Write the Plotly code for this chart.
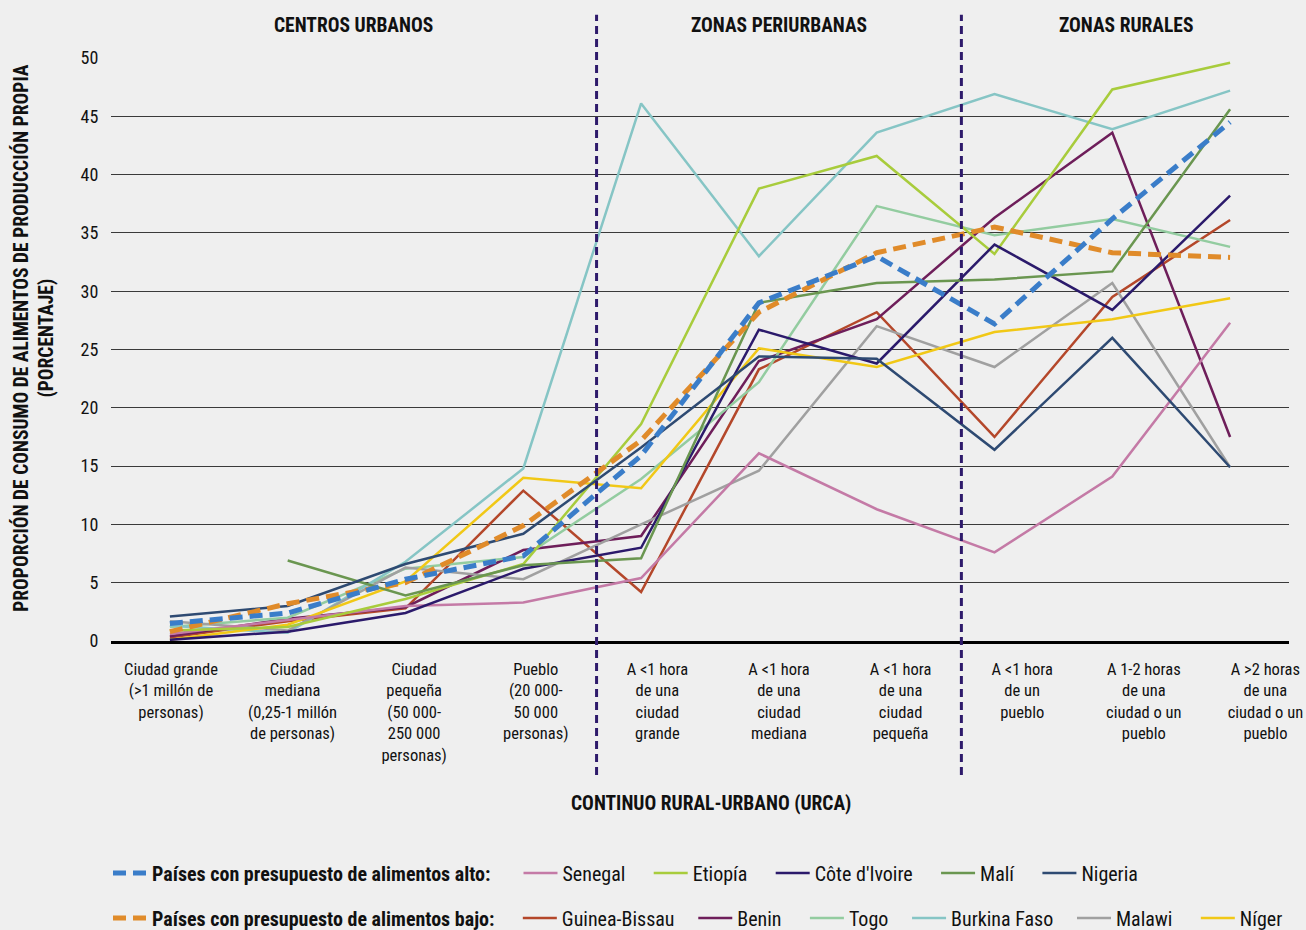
import plotly.graph_objects as go

# Rural-urban continuum categories (URCA)
categorias = [
    "Ciudad grande<br>(&gt;1 millón de<br>personas)",
    "Ciudad<br>mediana<br>(0,25-1 millón<br>de personas)",
    "Ciudad<br>pequeña<br>(50 000-<br>250 000<br>personas)",
    "Pueblo<br>(20 000-<br>50 000<br>personas)",
    "A &lt;1 hora<br>de una<br>ciudad<br>grande",
    "A &lt;1 hora<br>de una<br>ciudad<br>mediana",
    "A &lt;1 hora<br>de una<br>ciudad<br>pequeña",
    "A &lt;1 hora<br>de un<br>pueblo",
    "A 1-2 horas<br>de una<br>ciudad o un<br>pueblo",
    "A &gt;2 horas<br>de una<br>ciudad o un<br>pueblo",
]
zonas = ["CENTROS URBANOS", "ZONAS PERIURBANAS", "ZONAS RURALES"]
y_ticks = [0, 5, 10, 15, 20, 25, 30, 35, 40, 45, 50]

# Share of food consumed from own production (%)
alto_promedio = [1.5, 2.4, 5.3, 7.3, 15.9, 29.0, 33.0, 27.2, 36.2, 44.5]
bajo_promedio = [0.8, 3.2, 5.0, 9.9, 17.2, 28.2, 33.3, 35.5, 33.3, 32.9]

senegal = [0.6, 1.8, 3.0, 3.3, 5.4, 16.1, 11.3, 7.6, 14.1, 27.3]
etiopia = [0.9, 1.2, 3.6, 6.6, 18.6, 38.8, 41.6, 33.2, 47.3, 49.6]
cote_ivoire = [0.1, 0.8, 2.4, 6.2, 8.0, 26.7, 23.8, 34.0, 28.4, 38.2]
mali = [None, 6.9, 3.9, 6.5, 7.1, 29.0, 30.7, 31.0, 31.7, 45.6]
nigeria = [2.1, 3.0, 6.6, 9.2, 16.6, 24.4, 24.2, 16.4, 26.0, 14.9]

guinea_bissau = [0.3, 1.7, 2.8, 12.9, 4.2, 23.3, 28.2, 17.5, 29.5, 36.1]
benin = [0.4, 1.9, 2.9, 7.8, 9.0, 24.0, 27.6, 36.3, 43.6, 17.5]
togo = [1.2, 2.0, 6.2, 7.2, 13.9, 22.2, 37.3, 34.8, 36.2, 33.8]
burkina_faso = [1.3, 0.7, 6.8, 14.8, 46.1, 33.0, 43.6, 46.9, 43.9, 47.2]
malawi = [1.7, 0.9, 6.3, 5.3, 10.0, 14.6, 27.0, 23.5, 30.7, 14.9]
niger = [0.1, 1.4, 5.1, 14.0, 13.1, 25.1, 23.5, 26.5, 27.6, 29.4]

FONT = "Roboto Condensed, Liberation Sans Narrow, DejaVu Sans Condensed, Arial Narrow, Roboto, sans-serif"
BG = "#efefef"
INK = "#111111"

x_pos = list(range(len(categorias)))

alto = [
    ("Senegal", senegal, "#c47aa6"),
    ("Etiopía", etiopia, "#a8cc3c"),
    ("Côte d'Ivoire", cote_ivoire, "#2b1a6b"),
    ("Malí", mali, "#6a9650"),
    ("Nigeria", nigeria, "#2e4a72"),
]
bajo = [
    ("Guinea-Bissau", guinea_bissau, "#b4472a"),
    ("Benin", benin, "#6e1e5a"),
    ("Togo", togo, "#93cca0"),
    ("Burkina Faso", burkina_faso, "#86c5c5"),
    ("Malawi", malawi, "#a0a0a0"),
    ("Níger", niger, "#f1c816"),
]

# Trailing non-breaking spaces widen the gap after each legend entry
legend_gap = {"Guinea-Bissau": 3, "Togo": 3, "Burkina Faso": 3}


def entry(name, default=4):
    return name + "&nbsp;" * legend_gap.get(name, default)


fig = go.Figure()

# Country lines
for name, vals, color in bajo:
    fig.add_trace(go.Scatter(x=x_pos, y=vals, mode="lines", name=entry(name),
                             line=dict(color=color, width=2.5),
                             legend="legend2", connectgaps=False))
for name, vals, color in alto:
    fig.add_trace(go.Scatter(x=x_pos, y=vals, mode="lines", name=entry(name),
                             line=dict(color=color, width=2.5),
                             legend="legend", connectgaps=False))

# Group averages (dashed), drawn on top
fig.add_trace(go.Scatter(x=x_pos, y=bajo_promedio, mode="lines",
                         name="<b>Países con presupuesto de alimentos bajo:</b>" + "&nbsp;" * 4,
                         line=dict(color="#e08b2a", width=5, dash="13px,7px"),
                         legend="legend2", legendrank=1))
fig.add_trace(go.Scatter(x=x_pos, y=alto_promedio, mode="lines",
                         name="<b>Países con presupuesto de alimentos alto:</b>" + "&nbsp;" * 5,
                         line=dict(color="#3a7dc9", width=5, dash="13px,7px"),
                         legend="legend", legendrank=1))

# Zone separators
for xb in (3.5, 6.5):
    fig.add_shape(type="line", xref="x2", yref="paper", x0=xb, x1=xb,
                  y0=-0.23, y1=1.074,
                  line=dict(color="#2e1a6b", width=3, dash="8px,5px"))

# Zone headers
for label, xc in zip(zonas, (1.5, 5.0, 7.85)):
    fig.add_annotation(text=f"<b>{label}</b>", xref="x2", yref="paper",
                       x=xc, y=1.0566, xanchor="center", yanchor="middle",
                       showarrow=False, font=dict(size=19.5, color=INK, family=FONT))

fig.add_annotation(text="<b>CONTINUO RURAL-URBANO (URCA)</b>", xref="paper", yref="paper",
                   x=0.509, y=-0.278, xanchor="center", yanchor="middle", showarrow=False,
                   font=dict(size=19.5, color=INK, family=FONT))
fig.add_annotation(text="<b>PROPORCIÓN DE CONSUMO DE ALIMENTOS DE PRODUCCIÓN PROPIA<br>(PORCENTAJE)</b>",
                   xref="paper", yref="paper", x=-0.0654, y=0.52, textangle=-90,
                   xanchor="center", yanchor="middle",
                   showarrow=False, font=dict(size=19.5, color=INK, family=FONT))

legend_common = dict(orientation="h", xanchor="left", yanchor="middle",
                     bgcolor="rgba(0,0,0,0)", font=dict(size=20, color=INK, family=FONT),
                     itemwidth=34, traceorder="normal")

fig.update_layout(
    width=1306, height=930,
    paper_bgcolor=BG, plot_bgcolor=BG,
    margin=dict(l=111, r=17, t=58, b=289, autoexpand=False),
    font=dict(family=FONT, color=INK),
    showlegend=True,
    legend=dict(x=-0.00255, y=-0.398, **legend_common),
    legend2=dict(x=-0.00255, y=-0.475, **legend_common),
    xaxis=dict(range=[-0.5, 9.5], showticklabels=False, showgrid=False,
               zeroline=False, showline=True, linecolor="#000", linewidth=3,
               automargin=False, fixedrange=True),
    xaxis2=dict(overlaying="x", anchor="y", side="bottom",
                range=[-0.493, 9.194], tickmode="array", tickvals=x_pos,
                ticktext=categorias, showgrid=False, zeroline=False,
                showline=False, ticks="outside", ticklen=13,
                tickcolor="rgba(0,0,0,0)", automargin=False,
                tickfont=dict(size=16.5, color=INK, family=FONT)),
    yaxis=dict(range=[0, 50], tickmode="array", tickvals=y_ticks,
               showgrid=True, gridcolor="#3a3a3a", gridwidth=1, zeroline=False,
               ticks="outside", ticklen=8, tickcolor="rgba(0,0,0,0)",
               automargin=False,
               tickfont=dict(size=18, color=INK, family=FONT)),
)

fig.write_html("out.html")
